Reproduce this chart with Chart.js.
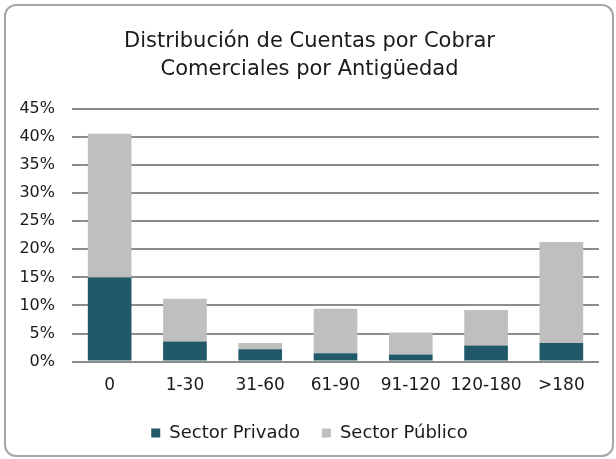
<!DOCTYPE html>
<html>
<head>
<meta charset="utf-8">
<script src="https://cdn.jsdelivr.net/npm/chart.js@4"></script>
<style>
    body { margin: 0; background: #ffffff; }
    .frame {
        position: absolute;
        left: 4px; top: 4px;
        width: 606px; height: 449px;
        border: 2px solid #a6a6a6;
        border-radius: 12px;
    }
    canvas { position: absolute; left: 0; top: 0; }
</style>
</head>
<body>
<div class="frame"></div>
<canvas id="grafico" width="616" height="459"></canvas>
<script>
const categorias = ["0", "1-30", "31-60", "61-90", "91-120", "120-180", ">180"];
const sectorPrivado = [15.0, 3.6, 2.2, 1.5, 1.25, 2.85, 3.3];
const sectorPublico = [25.6, 7.6, 1.1, 7.9, 3.95, 6.35, 18.0];
const titulo = ["Distribución de Cuentas por Cobrar", "Comerciales por Antigüedad"];

const fuente = "'DejaVu Sans', sans-serif";

const ctx = document.getElementById("grafico").getContext("2d");

new Chart(ctx, {
    type: "bar",
    data: {
        labels: categorias,
        datasets: [
            {
                label: "Sector Privado",
                data: sectorPrivado,
                backgroundColor: "#215968",
                barPercentage: 0.58,
                categoryPercentage: 1
            },
            {
                label: "Sector Público",
                data: sectorPublico,
                backgroundColor: "#bfbfbf",
                barPercentage: 0.58,
                categoryPercentage: 1
            }
        ]
    },
    options: {
        responsive: false,
        animation: false,
        layout: {
            padding: { left: 20, right: 17, top: 0, bottom: 7 }
        },
        plugins: {
            title: {
                display: true,
                text: titulo,
                color: "#1a1a1a",
                font: { family: fuente, size: 21, weight: "normal", lineHeight: 1.333 },
                padding: { top: 28, bottom: 25 }
            },
            legend: {
                position: "bottom",
                labels: {
                    color: "#1a1a1a",
                    boxWidth: 9,
                    boxHeight: 9,
                    padding: 22,
                    font: { family: fuente, size: 18 }
                }
            },
            tooltip: { enabled: false }
        },
        scales: {
            x: {
                stacked: true,
                grid: { display: false },
                border: { display: false },
                ticks: {
                    color: "#1a1a1a",
                    padding: 6,
                    maxRotation: 0,
                    font: { family: fuente, size: 17 }
                }
            },
            y: {
                stacked: true,
                min: 0,
                max: 45,
                afterFit: scale => { scale.width = 52; },
                grid: { color: "#8c8c8c", lineWidth: 2, drawTicks: false },
                border: { display: false },
                ticks: {
                    stepSize: 5,
                    color: "#1a1a1a",
                    padding: 17,
                    font: { family: fuente, size: 16 },
                    callback: valor => valor + "%"
                }
            }
        }
    }
});
</script>
</body>
</html>
